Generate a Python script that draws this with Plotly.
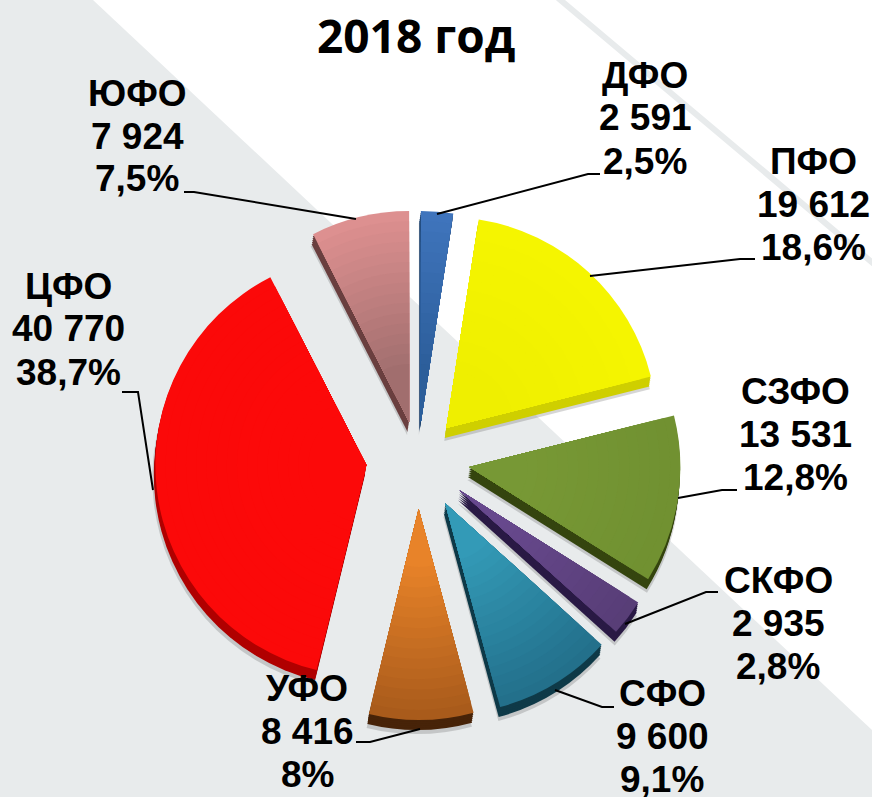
import plotly.graph_objects as go

W, H = 872, 797
# ---- data ----
regions = ["ДФО", "ПФО", "СЗФО", "СКФО", "СФО", "УФО", "ЦФО", "ЮФО"]
values = [2591, 19612, 13531, 2935, 9600, 8416, 40770, 7924]
value_labels = ["2 591", "19 612", "13 531", "2 935", "9 600", "8 416", "40 770", "7 924"]
percent_labels = ["2,5%", "18,6%", "12,8%", "2,8%", "9,1%", "8%", "38,7%", "7,5%"]

# ---- style ----
face_top = ["#3F74BC", "#F6F600", "#8AAB40", "#6C4C94", "#349EBB", "#E88329", "#FF0A0A", "#DE9090"]
face_bottom = ["#2C5E9A", "#EEEE00", "#5E7E26", "#533A70", "#226C87", "#A95B1B", "#F80808", "#A06E6E"]
side = ["#1F4470", "#CFCF00", "#35450F", "#2A1A45", "#0F3A48", "#472308", "#B00000", "#6A3F3F"]
pull_px = [37, 42, 52, 52, 52, 50, 52, 38]
cx, cy, R = 418, 459, 211
max_pull = max(pull_px)


def hex_rgb(c):
    return tuple(int(c[i:i + 2], 16) for i in (1, 3, 5))


def mix(a, b, t):
    ra, rb = hex_rgb(a), hex_rgb(b)
    return "rgb(%d,%d,%d)" % tuple(round(x + (y - x) * t) for x, y in zip(ra, rb))


def mid_cos():
    import math
    total = sum(values)
    out, acc = [], 0
    for v in values:
        out.append(math.cos(2 * math.pi * (acc + v / 2) / total))
        acc += v
    return out


def pie(rho, colors, dx=0, dy=0):
    half = rho + max_pull
    return go.Pie(
        labels=regions, values=values, sort=False, direction="clockwise", rotation=0,
        pull=[p / rho for p in pull_px],
        domain=dict(x=[(cx + dx - half) / W, (cx + dx + half) / W],
                    y=[1 - (cy + dy + half) / H, 1 - (cy + dy - half) / H]),
        marker=dict(colors=colors, line=dict(width=0)),
        textinfo="none", hoverinfo="skip", showlegend=False,
    )


fig = go.Figure()
# soft shadow + extruded side
fig.add_trace(pie(R + 1, ["rgba(70,70,70,0.22)"] * 8, -2, 13))
for d in (10, 8, 6, 4, 2):
    fig.add_trace(pie(R, side, -1.5 * d / 10, d))
# faces: stacked radial layers approximate the vertical gradient
cosines = mid_cos()
steps = 16
inner = 58
for k in range(steps):
    rho = R - (R - inner) * k / (steps - 1)
    frac = (rho - inner) / (R - inner)
    cols = []
    for i in range(8):
        c = cosines[i]
        t = (1 + c) / 2 - c * frac
        cols.append(mix(face_top[i], face_bottom[i], t))
    fig.add_trace(pie(rho, cols))


def px(x):
    return x / W


def py(y):
    return 1 - y / H


# background
shapes = [
    dict(type="path", xref="paper", yref="paper", layer="below", line=dict(width=0), fillcolor="#E8EBEC",
         path=f"M 0 1 L {px(93)} 1 L 1 {py(730)} L 1 0 L 0 0 Z"),
    dict(type="line", xref="paper", yref="paper", layer="below", line=dict(color="#E8EBEC", width=6),
         x0=px(558), y0=py(-2), x1=px(874), y1=py(264)),
]
# leader lines
leaders = [
    [(600, 174), (588, 174), (437, 214)],
    [(755, 259), (740, 259), (590, 276)],
    [(737, 490), (722, 490), (678, 498)],
    [(718, 592), (706, 592), (625, 624)],
    [(614, 707), (602, 707), (555, 690)],
    [(356, 742), (370, 742), (420, 729)],
    [(122, 392), (138, 392), (153, 490)],
    [(184, 192), (194, 192), (356, 219)],
]
for pts in leaders:
    path = "M " + " L ".join(f"{px(x)} {py(y)}" for x, y in pts)
    shapes.append(dict(type="path", xref="paper", yref="paper", layer="above",
                       line=dict(color="black", width=2), path=path))

# labels: centre x, first line centre y
label_pos = [(645, 75), (813, 161), (795, 391), (778, 580), (662, 693), (307, 688), (68, 286), (137, 93)]
line_gap = 43
annotations = []
for i, (x, y) in enumerate(label_pos):
    for j, txt in enumerate((regions[i], value_labels[i], percent_labels[i])):
        annotations.append(dict(
            x=px(x), y=py(y + j * line_gap), xref="paper", yref="paper", text=txt, showarrow=False,
            xanchor="center", yanchor="middle",
            font=dict(family="Liberation Sans", size=37, color="black", weight="bold"),
        ))
annotations.append(dict(
    x=px(416), y=py(35), xref="paper", yref="paper", text="2018 год", showarrow=False,
    xanchor="center", yanchor="middle",
    font=dict(family="Open Sans", size=46, color="black", weight="bold"),
))

fig.update_layout(width=W, height=H, margin=dict(l=0, r=0, t=0, b=0), paper_bgcolor="white",
                  plot_bgcolor="white", shapes=shapes, annotations=annotations)
fig.write_html("out.html", config=dict(displayModeBar=False),
               post_script="document.body.style.margin='0';document.documentElement.style.overflow='hidden';")
